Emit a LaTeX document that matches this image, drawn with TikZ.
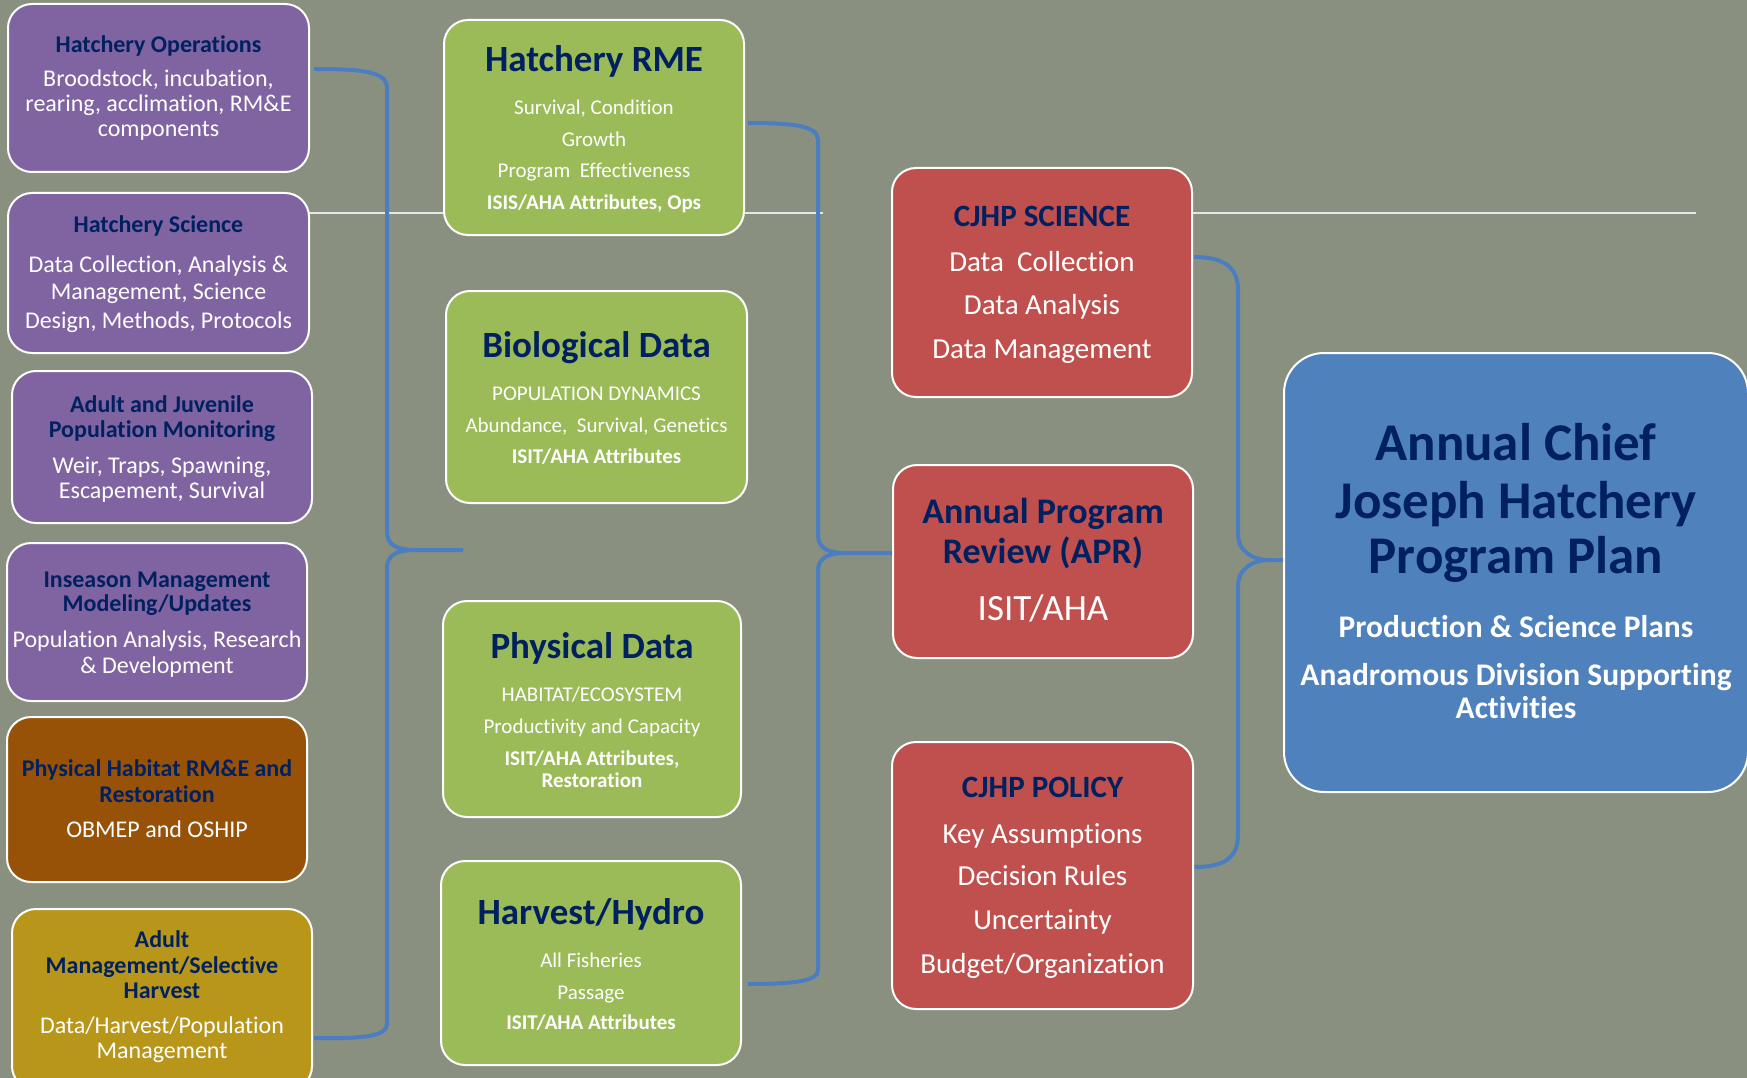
\documentclass[tikz,border=0pt]{standalone}
\usepackage{fontspec}
\setmainfont{Carlito}[Ligatures=NoCommon]
\definecolor{bgc}{RGB}{137,144,128}
\definecolor{purp}{RGB}{128,100,162}
\definecolor{grn}{RGB}{155,187,89}
\definecolor{rd}{RGB}{192,80,77}
\definecolor{blu}{RGB}{79,129,189}
\definecolor{brn}{RGB}{151,82,8}
\definecolor{gld}{RGB}{184,150,26}
\definecolor{navy}{RGB}{0,32,96}
\definecolor{connblue}{RGB}{74,126,193}
\definecolor{hl}{RGB}{230,230,230}
\begin{document}
\begin{tikzpicture}[x=1pt,y=-1pt,
  box/.style={draw=white, line width=2pt, rounded corners=24pt, inner sep=0pt},
  conn/.style={draw=connblue, line width=4pt},
  hline/.style={draw=hl, line width=2pt},
  wl/.style={anchor=base, inner sep=0pt, text=white},
  nl/.style={anchor=base, inner sep=0pt, text=navy},
  ptitle/.style={nl, font=\bfseries\fontsize{24}{28}\selectfont},
  pbody/.style={wl, font=\fontsize{24}{28}\selectfont},
  gtitle/.style={nl, font=\bfseries\fontsize{37}{41}\selectfont},
  gbody/.style={wl, font=\fontsize{21}{24}\selectfont},
  gbold/.style={wl, font=\bfseries\fontsize{21}{24}\selectfont},
  rtitle/.style={nl, font=\bfseries\fontsize{31}{35}\selectfont},
  rbody/.style={wl, font=\fontsize{29}{33}\selectfont},
  aprtitle/.style={nl, font=\bfseries\fontsize{36}{40}\selectfont},
  aprbody/.style={wl, font=\fontsize{37}{41}\selectfont},
  btitle/.style={nl, font=\bfseries\fontsize{53}{57}\selectfont},
  bbody/.style={wl, font=\bfseries\fontsize{31.5}{35}\selectfont}
]
\useasboundingbox (0,0) rectangle (1747,1078);
\clip (0,0) rectangle (1747,1078);
\fill[bgc] (0,0) rectangle (1747,1078);

% thin white horizontal lines
\draw[hline] (309,213) -- (823,213);
\draw[hline] (1192,213) -- (1696,213);

% left column boxes
\node[box, fill=purp, minimum width=301pt, minimum height=168pt] (ho) at (158.5,88) {};
\node[box, fill=purp, minimum width=301pt, minimum height=160pt] (hs) at (158.5,273) {};
\node[box, fill=purp, minimum width=300pt, minimum height=152pt] (aj) at (162,447) {};
\node[box, fill=purp, minimum width=300pt, minimum height=158pt] (is) at (157,622) {};
\node[box, fill=brn, minimum width=300pt, minimum height=165pt] (ph) at (157,799.5) {};
\node[box, fill=gld, minimum width=300pt, minimum height=181pt] (am) at (162,999.5) {};

% middle column boxes
\node[box, fill=grn, minimum width=300pt, minimum height=215pt] (rme) at (594,127.5) {};
\node[box, fill=grn, minimum width=301pt, minimum height=212pt] (bio) at (596.5,397) {};
\node[box, fill=grn, minimum width=298pt, minimum height=216pt] (phys) at (592,709) {};
\node[box, fill=grn, minimum width=300pt, minimum height=204pt] (hh) at (591,963) {};

% red boxes
\node[box, fill=rd, minimum width=300pt, minimum height=229pt] (cjs) at (1042,282.5) {};
\node[box, fill=rd, minimum width=300pt, minimum height=193pt] (apr) at (1043,561.5) {};
\node[box, fill=rd, minimum width=301pt, minimum height=267pt] (cjp) at (1042.5,875.5) {};

% blue box
\node[box, fill=blu, rounded corners=40pt, minimum width=464pt, minimum height=439pt] (plan) at (1516,572.5) {};

% texts: Hatchery Operations
\node[ptitle] (ho1) at (158.5,53) {Hatchery Operations};
\node[pbody] (ho2) at (158.5,87) {Broodstock, incubation,};
\node[pbody] (ho3) at (158.5,112) {rearing, acclimation, RM\&E};
\node[pbody] (ho4) at (158.5,137) {components};
% Hatchery Science
\node[ptitle] (hs1) at (158.5,233) {Hatchery Science};
\node[pbody] (hs2) at (158.5,272) {Data Collection, Analysis \&};
\node[pbody] (hs3) at (158.5,299) {Management, Science};
\node[pbody] (hs4) at (158.5,328) {Design, Methods, Protocols};
% Adult and Juvenile
\node[ptitle] (aj1) at (162,412) {Adult and Juvenile};
\node[ptitle] (aj2) at (162,437) {Population Monitoring};
\node[pbody] (aj3) at (162,473) {Weir, Traps, Spawning,};
\node[pbody] (aj4) at (162,498) {Escapement, Survival};
% Inseason
\node[ptitle] (is1) at (157,587) {Inseason Management};
\node[ptitle] (is2) at (157,611) {Modeling/Updates};
\node[pbody] (is3) at (157,647) {Population Analysis, Research};
\node[pbody] (is4) at (157,673) {\& Development};
% Physical Habitat
\node[ptitle] (ph1) at (157,776) {Physical Habitat RM\&E and};
\node[ptitle] (ph2) at (157,802) {Restoration};
\node[pbody] (ph3) at (157,837) {OBMEP and OSHIP};
% Adult Management
\node[ptitle] (am1) at (162,947) {Adult};
\node[ptitle] (am2) at (162,973) {Management/Selective};
\node[ptitle] (am3) at (162,998) {Harvest};
\node[pbody] (am4) at (162,1033) {Data/Harvest/Population};
\node[pbody] (am5) at (162,1058) {Management};

% Hatchery RME
\node[gtitle] (rme1) at (594,72) {Hatchery RME};
\node[gbody] (rme2) at (594,115) {Survival, Condition};
\node[gbody] (rme3) at (594,147) {Growth};
\node[gbody] (rme4) at (594,178) {Program~~Effectiveness};
\node[gbold] (rme5) at (594,209) {ISIS/AHA Attributes, Ops};
% Biological Data
\node[gtitle] (bio1) at (596.5,357) {Biological Data};
\node[gbody] (bio2) at (596.5,400) {POPULATION DYNAMICS};
\node[gbody] (bio3) at (596.5,432) {Abundance,~~Survival, Genetics};
\node[gbold] (bio4) at (596.5,463) {ISIT/AHA Attributes};
% Physical Data
\node[gtitle] (phys1) at (592,658) {Physical Data};
\node[gbody] (phys2) at (592,701.5) {HABITAT/ECOSYSTEM};
\node[gbody] (phys3) at (592,733) {Productivity and Capacity};
\node[gbold] (phys4) at (592,765) {ISIT/AHA Attributes,};
\node[gbold] (phys5) at (592,787) {Restoration};
% Harvest/Hydro
\node[gtitle] (hh1) at (591,924) {Harvest/Hydro};
\node[gbody] (hh2) at (591,967) {All Fisheries};
\node[gbody] (hh3) at (591,999) {Passage};
\node[gbold] (hh4) at (591,1029) {ISIT/AHA Attributes};

% CJHP SCIENCE
\node[rtitle] (cjs1) at (1042,226) {CJHP SCIENCE};
\node[rbody] (cjs2) at (1042,271) {Data~~Collection};
\node[rbody] (cjs3) at (1042,314) {Data Analysis};
\node[rbody] (cjs4) at (1042,358) {Data Management};
% APR
\node[aprtitle] (apr1) at (1043,523) {Annual Program};
\node[aprtitle] (apr2) at (1043,563) {Review (APR)};
\node[aprbody] (apr3) at (1043,620) {ISIT/AHA};
% CJHP POLICY
\node[rtitle] (cjp1) at (1042.5,797) {CJHP POLICY};
\node[rbody] (cjp2) at (1042.5,843) {Key Assumptions};
\node[rbody] (cjp3) at (1042.5,885) {Decision Rules};
\node[rbody] (cjp4) at (1042.5,929) {Uncertainty};
\node[rbody] (cjp5) at (1042.5,973) {Budget/Organization};

% Plan
\node[btitle] (plan1) at (1516,460) {Annual Chief};
\node[btitle] (plan2) at (1516,518) {Joseph Hatchery};
\node[btitle] (plan3) at (1516,573) {Program Plan};
\node[bbody] (plan4) at (1516,637) {Production \& Science Plans};
\node[bbody] (plan5) at (1516,685) {Anadromous Division Supporting};
\node[bbody] (plan6) at (1516,718) {Activities};

% braces
\coordinate (lbtip) at (463,550);
\coordinate (lbjoin) at (415,550);
\draw[conn] ([xshift=4pt,yshift=19pt]ho.east) .. controls (365,69) and (387,72) .. (387,88)
  -- (387,532) .. controls (387,545) and (397,550) .. (lbjoin) -- (lbtip);
\draw[conn] (lbjoin) .. controls (397,550) and (387,555) .. (387,568)
  -- (387,1024) .. controls (387,1036) and (365,1039) .. ([xshift=1pt,yshift=-38.5pt]am.east);

\coordinate (mbjoin) at (845,553);
\draw[conn] ([xshift=3pt,yshift=4.5pt]rme.east) .. controls (795,123) and (818,126) .. (818,140)
  -- (818,535) .. controls (818,548) and (828,553) .. (mbjoin) -- ([yshift=8.5pt]apr.west);
\draw[conn] (mbjoin) .. controls (828,553) and (818,558) .. (818,571)
  -- (818,970) .. controls (818,981) and (795,984) .. ([xshift=6pt,yshift=-21pt]hh.east);

\coordinate (rbjoin) at (1268,560);
\draw[conn] ([xshift=1pt,yshift=25.5pt]cjs.east) .. controls (1225,257) and (1238,268) .. (1238,290)
  -- (1238,535) .. controls (1238,550) and (1252,560) .. (rbjoin) -- ([yshift=12.5pt]plan.west);
\draw[conn] (rbjoin) .. controls (1252,560) and (1238,570) .. (1238,585)
  -- (1238,835) .. controls (1238,857) and (1225,867) .. ([xshift=0.5pt,yshift=8.5pt]cjp.east);
\end{tikzpicture}
\end{document}
